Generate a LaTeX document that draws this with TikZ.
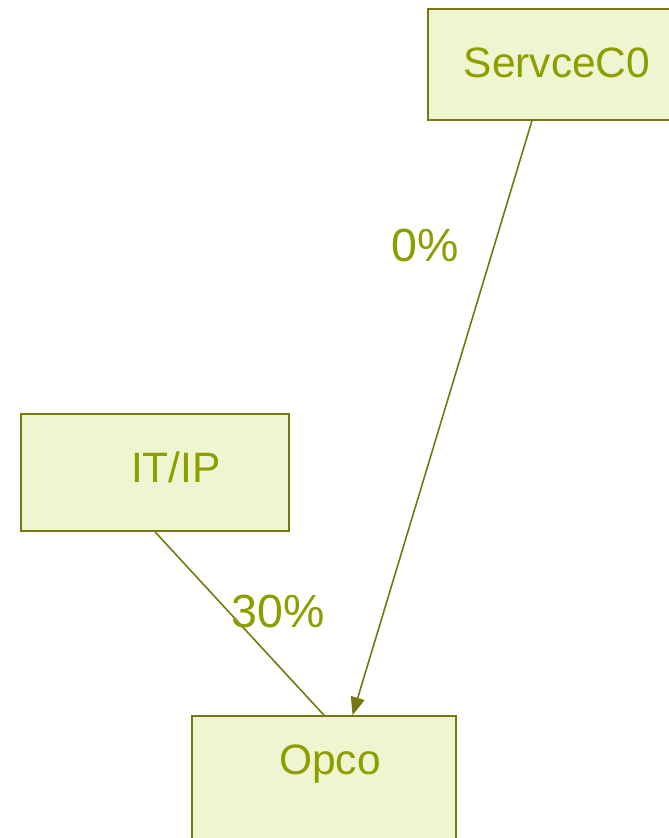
\documentclass[tikz,border=0pt]{standalone}
\usepackage{fontspec}
\setmainfont{Liberation Sans}
\usetikzlibrary{arrows.meta}
\definecolor{boxfill}{HTML}{EFF5D0}
\definecolor{boxline}{HTML}{77770F}
\definecolor{boxtext}{HTML}{8C9E00}
\tikzset{
  unitbox/.style={draw=boxline,fill=boxfill,line width=1.6pt,inner sep=0pt},
  unittext/.style={text=boxtext,inner sep=0pt,font=\fontsize{42.5}{50}\selectfont},
  pcttext/.style={unittext,font=\fontsize{46.5}{54}\selectfont},
  link/.style={draw=boxline,line width=1.6pt}
}
\begin{document}
\begin{tikzpicture}[x=1pt,y=-1pt]

\clip (0,0) rectangle (669,838);

\node[unitbox,minimum width=258pt,minimum height=111pt] (serv) at (557,64.5) {};
\node[unitbox,minimum width=268pt,minimum height=117pt] (itip) at (155,472.5) {};
\node[unitbox,minimum width=264pt,minimum height=164pt] (opco) at (324,798) {};

\node[unittext] (servtxt) at (557,63) {ServceC0};
\node[unittext] (itiptxt) at (176,467) {IT/IP};
\node[unittext] (opcotxt) at (330,764) {Opco};

\draw[link,-{Triangle[length=18pt,width=14pt]}] (serv.246) -- (opco.71);
\draw[link] (itip.south) -- (opco.north);

\node[pcttext] (servpct) at (425,245) {0\%};
\node[pcttext] (itippct) at (278,611) {30\%};
\end{tikzpicture}
\end{document}
